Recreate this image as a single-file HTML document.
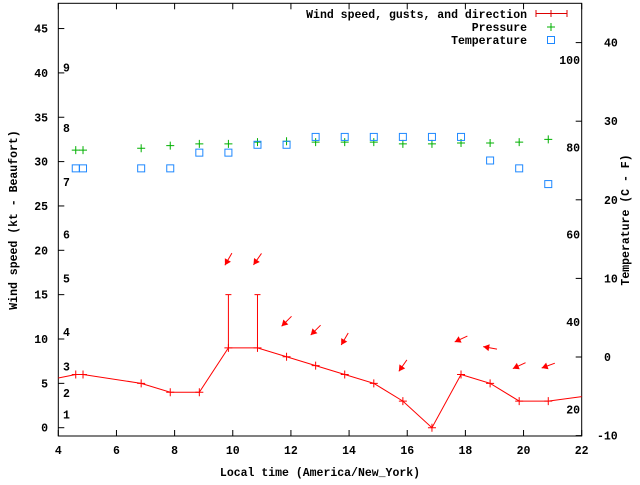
<!DOCTYPE html>
<html><head><meta charset="utf-8"><style>
html,body{margin:0;padding:0;background:#fff}
svg text{font-family:"Liberation Mono",monospace;font-weight:bold;font-size:11.5px;fill:#000}
</style></head><body>
<svg id="c" width="640" height="480" xmlns="http://www.w3.org/2000/svg"></svg>
<script>
const hours=[4,4.6,4.85,6.85,7.85,8.85,9.85,10.85,11.85,12.85,13.85,14.85,15.85,16.85,17.85,18.85,19.85,20.85,22];
const speeds=[5.6,6,6,5,4,4,9,9,8,7,6,5,3,0,6,5,3,3,3.5];
const gustHours=[9.85,10.85];
const gusts=[15,15];
const dirHours=[9.85,10.85,11.85,12.85,13.85,15.85,17.85,18.85,19.85,20.85];
const dirSpeeds=[15,15,8,7,6,3,6,5,3,3];
const dirDeg=[30,35,45,45,30,35,65,100,65,70];
const presHours=[4.6,4.85,6.85,7.85,8.85,9.85,10.85,11.85,12.85,13.85,14.85,15.85,16.85,17.85,18.85,19.85,20.85];
const pressure=[31.3,31.3,31.5,31.8,32,32,32.2,32.3,32.2,32.2,32.2,32,32,32.1,32.1,32.2,32.5];
const tempHours=[4.6,4.85,6.85,7.85,8.85,9.85,10.85,11.85,12.85,13.85,14.85,15.85,16.85,17.85,18.85,19.85,20.85];
const tempC=[24,24,24,24,26,26,27,27,28,28,28,28,28,28,25,24,22];
const xTicks=[4,6,8,10,12,14,16,18,20,22];
const yTicks=[0,5,10,15,20,25,30,35,40,45];
const cTicks=[-10,0,10,20,30,40];
const fTicks=[20,40,60,80,100];
const bft=[1,2,3,4,5,6,7,8,9];
const bftKt=[1.5,3.9,6.9,10.8,16.8,21.8,27.7,33.8,40.6];

const L=58.3,R=581.7,T=3.3,B=436;
const X=h=>L+(h-4)*(R-L)/18;
const Y=k=>427.7-k*8.87;
const YC=c=>357-c*7.86;
const YF=f=>YC((f-32)*5/9);
const svg=document.getElementById('c');
const NS='http://www.w3.org/2000/svg';
function mk(tag,attrs,parent){const e=document.createElementNS(NS,tag);for(const k in attrs)e.setAttribute(k,attrs[k]);(parent||svg).appendChild(e);return e;}
function txt(x,y,s,anchor,parent){const t=mk('text',{x:x,y:y,'text-anchor':anchor||'start'},parent);t.textContent=s;return t;}

const frame=mk('rect',{x:L,y:T,width:R-L,height:B-T,fill:'none',stroke:'#000','stroke-width':1});



xTicks.forEach(h=>{
  const x=X(h);
  const t=mk('line',{x1:x,y1:B,x2:x,y2:B-6,stroke:'#000'});
  
  
  mk('line',{x1:x,y1:T,x2:x,y2:T+6,stroke:'#000'});
  const l=txt(x,454,String(h),'middle');
  
  
});
yTicks.forEach(k=>{
  const y=Y(k);
  const t=mk('line',{x1:L,y1:y,x2:L+6,y2:y,stroke:'#000'});
  
  
  const l=txt(48,y+4,String(k),'end');
  
  
});
bft.forEach((b,i)=>{
  const l=txt(63,Y(bftKt[i])+4,String(b),'start');
  
  
});
cTicks.forEach(c=>{
  const y=YC(c);
  const t=mk('line',{x1:R,y1:y,x2:R-6,y2:y,stroke:'#000'});
  
  
  const l=txt(c<0?597:604,y+4,String(c),'start');
  
  
});
fTicks.forEach(f=>{
  const l=txt(580,YF(f)+4,String(f),'end');
  
  
});

let t1=txt(320,476,'Local time (America/New_York)','middle');


let t2=txt(0,0,'Wind speed (kt - Beaufort)','middle');
t2.setAttribute('transform','translate(17,220) rotate(-90)');


let t3=txt(0,0,'Temperature (C - F)','middle');
t3.setAttribute('transform','translate(629,220) rotate(-90)');



const g=mk('g',{});

const pts=hours.map((h,i)=>X(h)+','+Y(speeds[i])).join(' ');
const pl=mk('polyline',{points:pts,fill:'none',stroke:'#f00','stroke-width':1},g);


hours.forEach((h,i)=>{
  if(i===0||i===hours.length-1)return;
  const x=X(h),y=Y(speeds[i]);
  const p=mk('path',{d:`M${x-4},${y}H${x+4}M${x},${y-4}V${y+4}`,stroke:'#f00'},g);
  
  
});
gustHours.forEach((h,i)=>{
  const x=X(h),y=Y(gusts[i]),y0=Y(speeds[hours.indexOf(h)]);
  const p=mk('path',{d:`M${x},${y0}V${y}M${x-3},${y}H${x+3}`,stroke:'#f00'},g);
  
  
});
dirHours.forEach((h,i)=>{
  const cx=X(h),cy=Y(dirSpeeds[i]+4);
  const a=dirDeg[i]*Math.PI/180;
  const ux=-Math.sin(a),uy=Math.cos(a);
  const len=14;
  const tx=cx+ux*len/2,ty=cy+uy*len/2,sx=cx-ux*len/2,sy=cy-uy*len/2;
  const px=-uy,py=ux;
  const bx=tx-ux*6,by=ty-uy*6;
  const gg=mk('g',{},g);
  
  
  mk('line',{x1:sx,y1:sy,x2:tx,y2:ty,stroke:'#f00'},gg);
  mk('polygon',{points:`${tx},${ty} ${bx+px*3.5},${by+py*3.5} ${bx-px*3.5},${by-py*3.5}`,fill:'#f00'},gg);
});
presHours.forEach((h,i)=>{
  const x=X(h),y=Y(pressure[i]);
  const p=mk('path',{d:`M${x-4},${y}H${x+4}M${x},${y-4}V${y+4}`,stroke:'#00b000'},g);
  
  
});
tempHours.forEach((h,i)=>{
  const x=X(h),y=YC(tempC[i]);
  const p=mk('rect',{x:x-3.5,y:y-3.5,width:7,height:7,fill:'none',stroke:'#1e88ff'},g);
  
  
});

const lg=mk('g',{});


let e1=txt(527,18,'Wind speed, gusts, and direction','end',lg);


mk('path',{d:'M536,13.5H567M536,10V17M567,10V17M551,10V17',stroke:'#d00'},lg);
let e2=txt(527,31,'Pressure','end',lg);


mk('path',{d:'M547,27H555M551,23V31',stroke:'#00b000'},lg);
let e3=txt(527,44,'Temperature','end',lg);


mk('rect',{x:547.5,y:36.5,width:7,height:7,fill:'none',stroke:'#1e88ff'},lg);
</script>
</body></html>
